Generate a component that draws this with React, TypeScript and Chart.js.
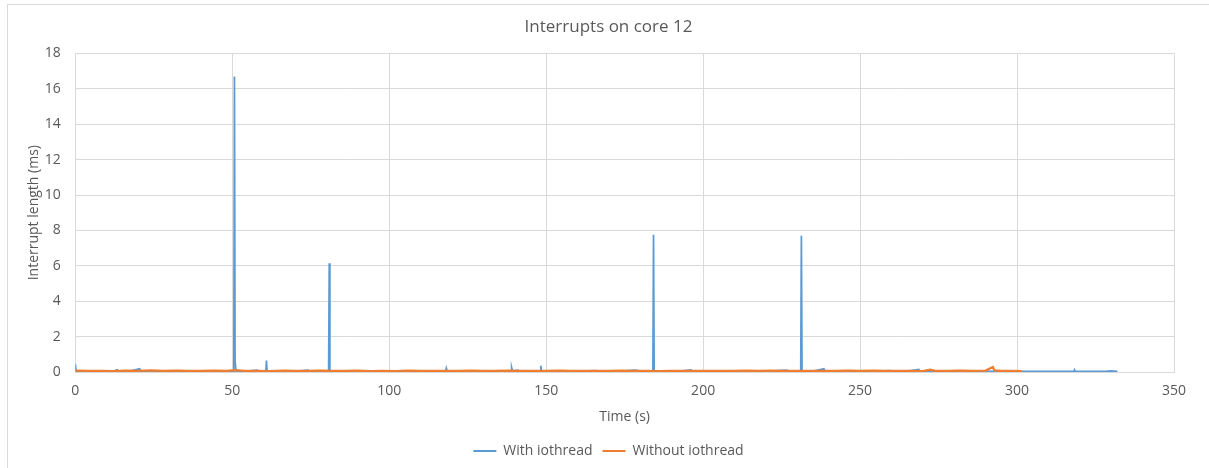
import React, { useEffect, useRef } from "react";
import { Chart, registerables } from "chart.js";

Chart.register(...registerables);

const chartTitle = "Interrupts on core 12";
const xTitle = "Time (s)";
const yTitle = "Interrupt length (ms)";
const seriesNames = ["With iothread", "Without iothread"];

const xMin = 0;
const xMax = 350;
const xStep = 50;
const yMin = 0;
const yMax = 18;
const yStep = 2;

// With iothread: time (s)
const withTime = [
  0, 0.3, 3, 6, 9, 12, 13.4, 13.8, 17, 20.5, 20.9, 24, 27, 30, 33, 36, 39, 42, 45, 48,
  50.5, 50.7, 50.9, 51.2, 54, 58, 58.4, 60.7, 60.9, 61.1, 64, 67, 70, 74.2, 74.6, 78,
  80.7, 80.9, 81.1, 84, 87, 90, 93, 96, 99, 102, 105, 108, 111, 114, 118.0, 118.2, 118.5,
  121, 124, 127, 130, 133, 136, 138.8, 139.0, 139.3, 141, 141.4, 144, 148.1, 148.3, 148.5,
  152, 155, 158, 161, 165.6, 168, 171, 174, 178.3, 181, 184.0, 184.2, 184.4, 188, 192,
  196.2, 196.6, 200, 204, 208, 212, 216, 220, 226.7, 227.1, 231.1, 231.3, 231.5, 235,
  238.5, 238.8, 242, 246, 250, 254, 259.3, 262, 265, 268.7, 269, 273, 277, 281, 284,
  287.7, 291, 295, 298, 302, 305, 308, 311, 314, 318.1, 318.3, 318.5, 322, 325, 328, 330, 332,
];
// With iothread: interrupt length (ms)
const withValue = [
  0.45, 0.04, 0.03, 0.05, 0.03, 0.04, 0.12, 0.03, 0.04, 0.18, 0.03, 0.05, 0.03, 0.04, 0.05, 0.03, 0.04, 0.05, 0.03, 0.04,
  0.05, 16.7, 0.6, 0.05, 0.04, 0.1, 0.03, 0.04, 0.64, 0.04, 0.03, 0.05, 0.03, 0.1, 0.04, 0.05,
  0.04, 6.15, 0.04, 0.05, 0.03, 0.04, 0.05, 0.03, 0.04, 0.05, 0.03, 0.04, 0.05, 0.03, 0.04, 0.22, 0.04,
  0.05, 0.03, 0.04, 0.05, 0.03, 0.04, 0.04, 0.25, 0.04, 0.1, 0.03, 0.04, 0.04, 0.36, 0.04,
  0.05, 0.03, 0.04, 0.05, 0.08, 0.03, 0.04, 0.05, 0.1, 0.04, 0.04, 7.75, 0.04, 0.05, 0.03,
  0.12, 0.04, 0.05, 0.03, 0.04, 0.05, 0.03, 0.04, 0.1, 0.04, 0.04, 7.7, 0.04, 0.05,
  0.18, 0.04, 0.03, 0.05, 0.04, 0.03, 0.08, 0.04, 0.05, 0.15, 0.04, 0.03, 0.05, 0.04, 0.03,
  0.07, 0.04, 0.05, 0.03, 0.04, 0.03, 0.04, 0.03, 0.04, 0.04, 0.12, 0.03, 0.04, 0.03, 0.04, 0.06, 0.03,
];

// Without iothread: time (s)
const withoutTime = [
  0, 4, 8, 12, 16, 20, 24, 28, 32, 36, 40, 44, 48, 51, 54, 58, 62, 66, 70, 74, 78, 82, 86,
  90, 94, 98, 102, 106, 110, 114, 118, 122, 126, 130, 134, 138, 142, 146, 150, 154, 158,
  162, 166, 170, 174, 178, 182, 186, 190, 194, 198, 202, 206, 210, 214, 218, 222, 226,
  230, 234, 238, 242, 246, 250, 254, 258, 262, 266, 270, 272.3, 274, 278, 282, 286, 290,
  292.3, 292.8, 295, 298, 301.5,
];
// Without iothread: interrupt length (ms)
const withoutValue = [
  0.08, 0.06, 0.07, 0.05, 0.08, 0.07, 0.09, 0.06, 0.08, 0.07, 0.06, 0.08, 0.07, 0.1, 0.07, 0.06, 0.05, 0.08, 0.07, 0.06, 0.08, 0.07, 0.06,
  0.08, 0.05, 0.06, 0.05, 0.08, 0.07, 0.06, 0.07, 0.06, 0.08, 0.07, 0.06, 0.08, 0.07, 0.06, 0.07, 0.08, 0.07,
  0.06, 0.07, 0.06, 0.08, 0.07, 0.06, 0.05, 0.07, 0.06, 0.07, 0.06, 0.07, 0.06, 0.08, 0.07, 0.08, 0.07,
  0.06, 0.07, 0.06, 0.07, 0.08, 0.07, 0.08, 0.07, 0.06, 0.07, 0.05, 0.13, 0.06, 0.07, 0.08, 0.07, 0.08,
  0.28, 0.09, 0.06, 0.07, 0.05,
];

const FONT = "'Open Sans', 'Noto Sans', sans-serif";
const TEXT = "#595959";
const GRID = "#d9d9d9";

export default function App() {
  const ref = useRef<HTMLCanvasElement>(null);

  useEffect(() => {
    const canvas = ref.current;
    if (!canvas) return;
    const chart = new Chart(canvas, {
      type: "scatter",
      data: {
        datasets: [
          {
            label: seriesNames[0],
            data: withTime.map((t, i) => ({ x: t, y: withValue[i] })),
            showLine: true,
            borderColor: "#5B9BD5",
            backgroundColor: "#5B9BD5",
            borderWidth: 1.75,
            pointRadius: 0,
            pointHoverRadius: 0,
            tension: 0,
            order: 1,
          },
          {
            label: seriesNames[1],
            data: withoutTime.map((t, i) => ({ x: t, y: withoutValue[i] })),
            showLine: true,
            borderColor: "#ED7D31",
            backgroundColor: "#ED7D31",
            borderWidth: 2.25,
            pointRadius: 0,
            pointHoverRadius: 0,
            tension: 0,
            order: 0,
          },
        ],
      },
      options: {
        responsive: false,
        animation: false,
        layout: { padding: 0 },
        plugins: {
          title: {
            display: true,
            text: chartTitle,
            color: TEXT,
            font: { family: FONT, size: 17, weight: "normal" },
            padding: { top: 12, bottom: 16 },
          },
          legend: {
            position: "bottom",
            labels: {
              color: TEXT,
              font: { family: FONT, size: 14 },
              boxWidth: 23,
              boxHeight: 2,
              padding: 10,
              sort: (a: any, b: any) => a.datasetIndex - b.datasetIndex,
              generateLabels: (c: any) =>
                c.data.datasets.map((d: any, i: number) => ({
                  text: d.label,
                  fillStyle: d.borderColor,
                  strokeStyle: d.borderColor,
                  lineWidth: 0,
                  hidden: false,
                  datasetIndex: i,
                  fontColor: TEXT,
                })),
            },
          },
          tooltip: { enabled: false },
        },
        scales: {
          x: {
            type: "linear",
            min: xMin,
            max: xMax,
            ticks: {
              stepSize: xStep,
              color: TEXT,
              font: { family: FONT, size: 14 },
              padding: 11,
              maxRotation: 0,
            },
            grid: { color: GRID, drawTicks: false, lineWidth: 1 },
            border: { color: GRID },
            title: {
              display: true,
              text: xTitle,
              color: TEXT,
              font: { family: FONT, size: 14 },
              padding: { top: 0, bottom: 8.6 },
            },
            afterFit: (s: any) => {
              s.height = 62;
              s.paddingRight = 35;
            },
          },
          y: {
            type: "linear",
            min: yMin,
            max: yMax,
            ticks: {
              stepSize: yStep,
              color: TEXT,
              font: { family: FONT, size: 14 },
              padding: 14.5,
            },
            grid: { color: GRID, drawTicks: false, lineWidth: 1 },
            border: { color: GRID },
            title: {
              display: true,
              text: yTitle,
              color: TEXT,
              font: { family: FONT, size: 14 },
              padding: { top: 17.6, bottom: 0 },
            },
            afterFit: (s: any) => {
              s.width = 67.3;
            },
          },
        },
      },
    });
    return () => chart.destroy();
  }, []);

  return (
    <div
      style={{
        position: "fixed",
        left: 7,
        top: 4,
        width: 1230,
        height: 490,
        border: "1px solid #d9d9d9",
        background: "#ffffff",
      }}
    >
      <canvas ref={ref} width={1201} height={463} style={{ display: "block" }} />
    </div>
  );
}
